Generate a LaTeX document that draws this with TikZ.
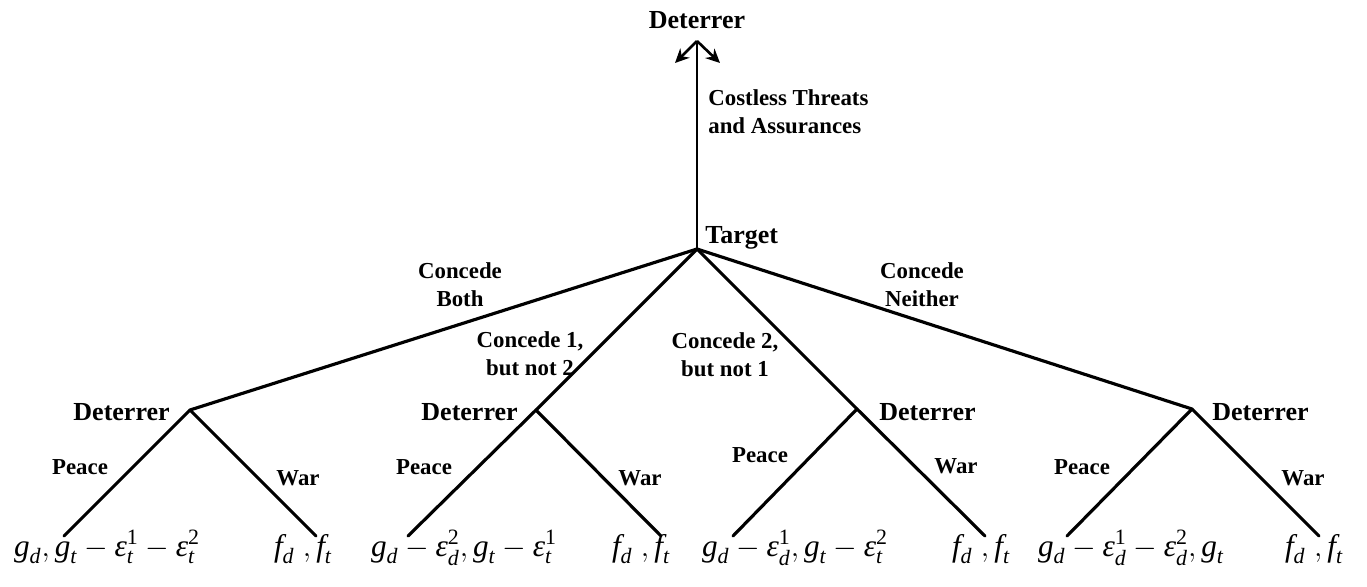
\documentclass[tikz,border=0pt]{standalone}
\usepackage{amsmath}
\usepackage{fontspec}
\setmainfont{Liberation Serif}
\usetikzlibrary{arrows.meta}

\newcommand{\payit}[1]{\text{\itshape #1}}
\tikzset{
    branch/.style={line width=1.8pt, line cap=round},
    player/.style={font=\fontsize{14.8}{17}\selectfont\bfseries, inner sep=0pt},
    move/.style={font=\fontsize{13}{15.8}\selectfont\bfseries, align=center, inner sep=0pt},
    payoff/.style={font=\fontsize{17.8}{21}\selectfont, anchor=base, inner sep=0pt}
}

\begin{document}
\begin{tikzpicture}[x=0.02cm, y=-0.02cm]
    \useasboundingbox (0,0) rectangle (1367,586);
    % tree points
    \coordinate (top) at (697,41);
    \coordinate (tgt) at (697,249);
    \coordinate (arrL) at (675,63);
    \coordinate (arrR) at (720,63);
    \coordinate (d1) at (190,410);
    \coordinate (d2) at (536,410);
    \coordinate (d3) at (857,409);
    \coordinate (d4) at (1192,409);
    \coordinate (peace1) at (64,536);  \coordinate (war1) at (316,536);
    \coordinate (peace2) at (408,536); \coordinate (war2) at (661,536);
    \coordinate (peace3) at (733,536); \coordinate (war3) at (985,536);
    \coordinate (peace4) at (1067,536);\coordinate (war4) at (1319,536);

    % first stage
    \draw[line width=1.5pt] (tgt) -- (top);
    \draw[line width=1.5pt, -{Stealth[length=8pt, width=7.5pt]}] (top) -- (arrL);
    \draw[line width=1.5pt, -{Stealth[length=8pt, width=7.5pt]}] (top) -- (arrR);
    \node[player] (deterrer0) at (697,20) {Deterrer};
    \node[move, anchor=west, align=left] (costless) at (708,112) {Costless Threats\\and Assurances};
    \node[player, anchor=west] (target) at (705,238) {Target};

    % target's choices
    \foreach \k in {1,2,3,4} {
        \draw[branch] (tgt) -- (d\k);
        \draw[branch] (d\k) -- (peace\k);
        \draw[branch] (d\k) -- (war\k);
    }
    \node[move] (both) at (460,285) {Concede\\Both};
    \node[move] (onlyone) at (530,354) {Concede 1,\\but not 2};
    \node[move] (onlytwo) at (725,355) {Concede 2,\\but not 1};
    \node[move] (neither) at (922,285) {Concede\\Neither};

    % deterrer's choices
    \node[player, anchor=east] (det1) at (170,412) {Deterrer};
    \node[player, anchor=east] (det2) at (518,412) {Deterrer};
    \node[player, anchor=west] (det3) at (879,412) {Deterrer};
    \node[player, anchor=west] (det4) at (1212,412) {Deterrer};
    \node[move] (pc1) at (80,467) {Peace};
    \node[move] (wr1) at (298,478) {War};
    \node[move] (pc2) at (424,467) {Peace};
    \node[move] (wr2) at (640,478) {War};
    \node[move] (pc3) at (760,455) {Peace};
    \node[move] (wr3) at (956,466) {War};
    \node[move] (pc4) at (1082,467) {Peace};
    \node[move] (wr4) at (1303,478) {War};

    % payoffs
    \node[payoff] (u1) at (107,556) {$\payit{g}_{\payit{d}}, \payit{g}_{\payit{t}} - \payit{ε}^{\text{1}}_{\payit{t}} - \payit{ε}^{\text{2}}_{\payit{t}}$};
    \node[payoff] (v1) at (303,556) {$\payit{f}_{\payit{d}}\;, \payit{f}_{\payit{t}}$};
    \node[payoff] (u2) at (464,556) {$\payit{g}_{\payit{d}} - \payit{ε}^{\text{2}}_{\payit{d}}, \payit{g}_{\payit{t}} - \payit{ε}^{\text{1}}_{\payit{t}}$};
    \node[payoff] (v2) at (641,556) {$\payit{f}_{\payit{d}}\;, \payit{f}_{\payit{t}}$};
    \node[payoff] (u3) at (795,556) {$\payit{g}_{\payit{d}} - \payit{ε}^{\text{1}}_{\payit{d}}, \payit{g}_{\payit{t}} - \payit{ε}^{\text{2}}_{\payit{t}}$};
    \node[payoff] (v3) at (981,556) {$\payit{f}_{\payit{d}}\;, \payit{f}_{\payit{t}}$};
    \node[payoff] (u4) at (1131,556) {$\payit{g}_{\payit{d}} - \payit{ε}^{\text{1}}_{\payit{d}} - \payit{ε}^{\text{2}}_{\payit{d}}, \payit{g}_{\payit{t}}$};
    \node[payoff] (v4) at (1314,556) {$\payit{f}_{\payit{d}}\;, \payit{f}_{\payit{t}}$};
\end{tikzpicture}
\end{document}
